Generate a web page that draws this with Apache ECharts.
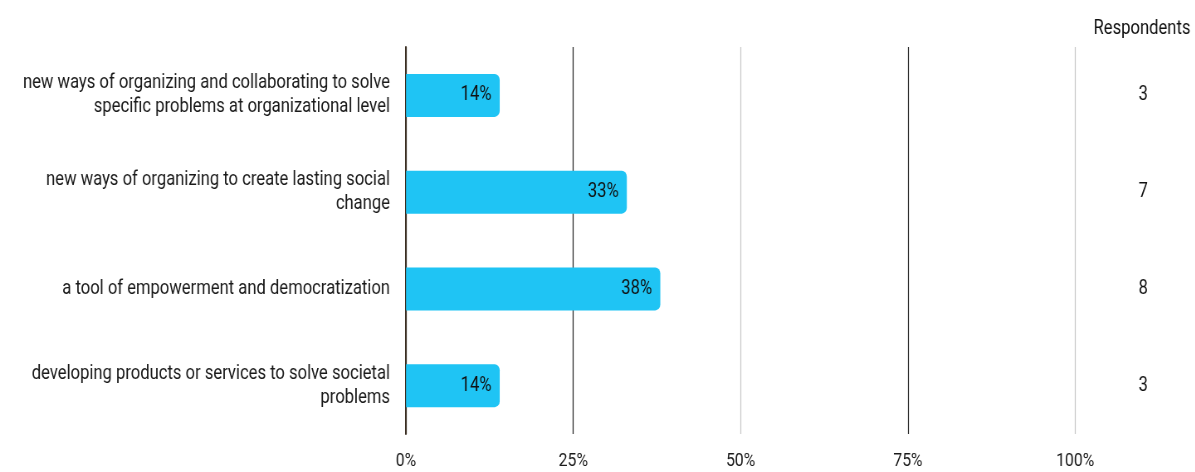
<!DOCTYPE html>
<html>
<head>
<meta charset="utf-8">
<script src="https://cdn.jsdelivr.net/npm/echarts@6/dist/echarts.min.js"></script>
<style>
  html, body { margin: 0; padding: 0; background: #fff; overflow: hidden; }
  #wrap { width: 1195px; height: 472px; overflow: hidden; }
  #chart { height: 472px; transform-origin: 0 0; }
</style>
</head>
<body>
<div id="wrap"><div id="chart"></div></div>
<script>
const categories = [
  'new ways of organizing and collaborating to solve\nspecific problems at organizational level',
  'new ways of organizing to create lasting social\nchange',
  'a tool of empowerment and democratization',
  'developing products or services to solve societal\nproblems'
];
const shares = [14, 33, 38, 14];
const respondents = [3, 7, 8, 3];
const tickSuffix = '%';

// Condensed look: the chart is laid out wider and squeezed horizontally.
const SX = 0.83;
const px = v => v / SX;
const el = document.getElementById('chart');
el.style.width = px(1195) + 'px';
el.style.transform = 'scaleX(' + SX + ')';

const FONT = '"Roboto", sans-serif';

const chart = echarts.init(el);
chart.setOption({
  animation: false,
  backgroundColor: '#fff',
  textStyle: { fontFamily: FONT },
  grid: { left: px(406), right: px(120), top: 47, bottom: 38 },
  graphic: [{
    type: 'text',
    x: px(1142),
    y: 29,
    style: {
      text: 'Respondents', font: '20px ' + FONT, fill: '#111',
      textAlign: 'center', textVerticalAlign: 'middle'
    }
  }],
  xAxis: {
    type: 'value',
    min: 0, max: 100, interval: 25,
    axisLine: { show: false },
    axisTick: { show: false },
    axisLabel: {
      formatter: v => v + tickSuffix,
      color: '#1a1a1a', fontSize: 19, margin: 18, fontFamily: FONT
    },
    splitLine: {
      lineStyle: { color: ['#222', '#222', '#c8c8c8', '#222', '#c8c8c8'], width: 1.2 }
    }
  },
  yAxis: [{
    type: 'category',
    data: categories,
    inverse: true,
    axisLine: { show: true, lineStyle: { color: '#3a2e22', width: 2 } },
    axisTick: { show: false },
    axisLabel: {
      color: '#1a1a1a', fontSize: 20, lineHeight: 24, margin: px(16), align: 'right', fontFamily: FONT
    }
  }, {
    type: 'category',
    data: respondents.map(String),
    inverse: true,
    position: 'right',
    axisLine: { show: false },
    axisTick: { show: false },
    axisLabel: { color: '#111', fontSize: 20, margin: px(68), align: 'center', fontFamily: FONT }
  }],
  series: [{
    type: 'bar',
    data: shares,
    barWidth: 43,
    itemStyle: { color: '#1fc4f4', borderRadius: [0, 6, 6, 0] },
    label: {
      show: true,
      position: 'insideRight',
      formatter: p => p.value + '%',
      color: '#111', fontSize: 20, offset: [px(-4), 0], fontFamily: FONT
    }
  }]
});
</script>
</body>
</html>
